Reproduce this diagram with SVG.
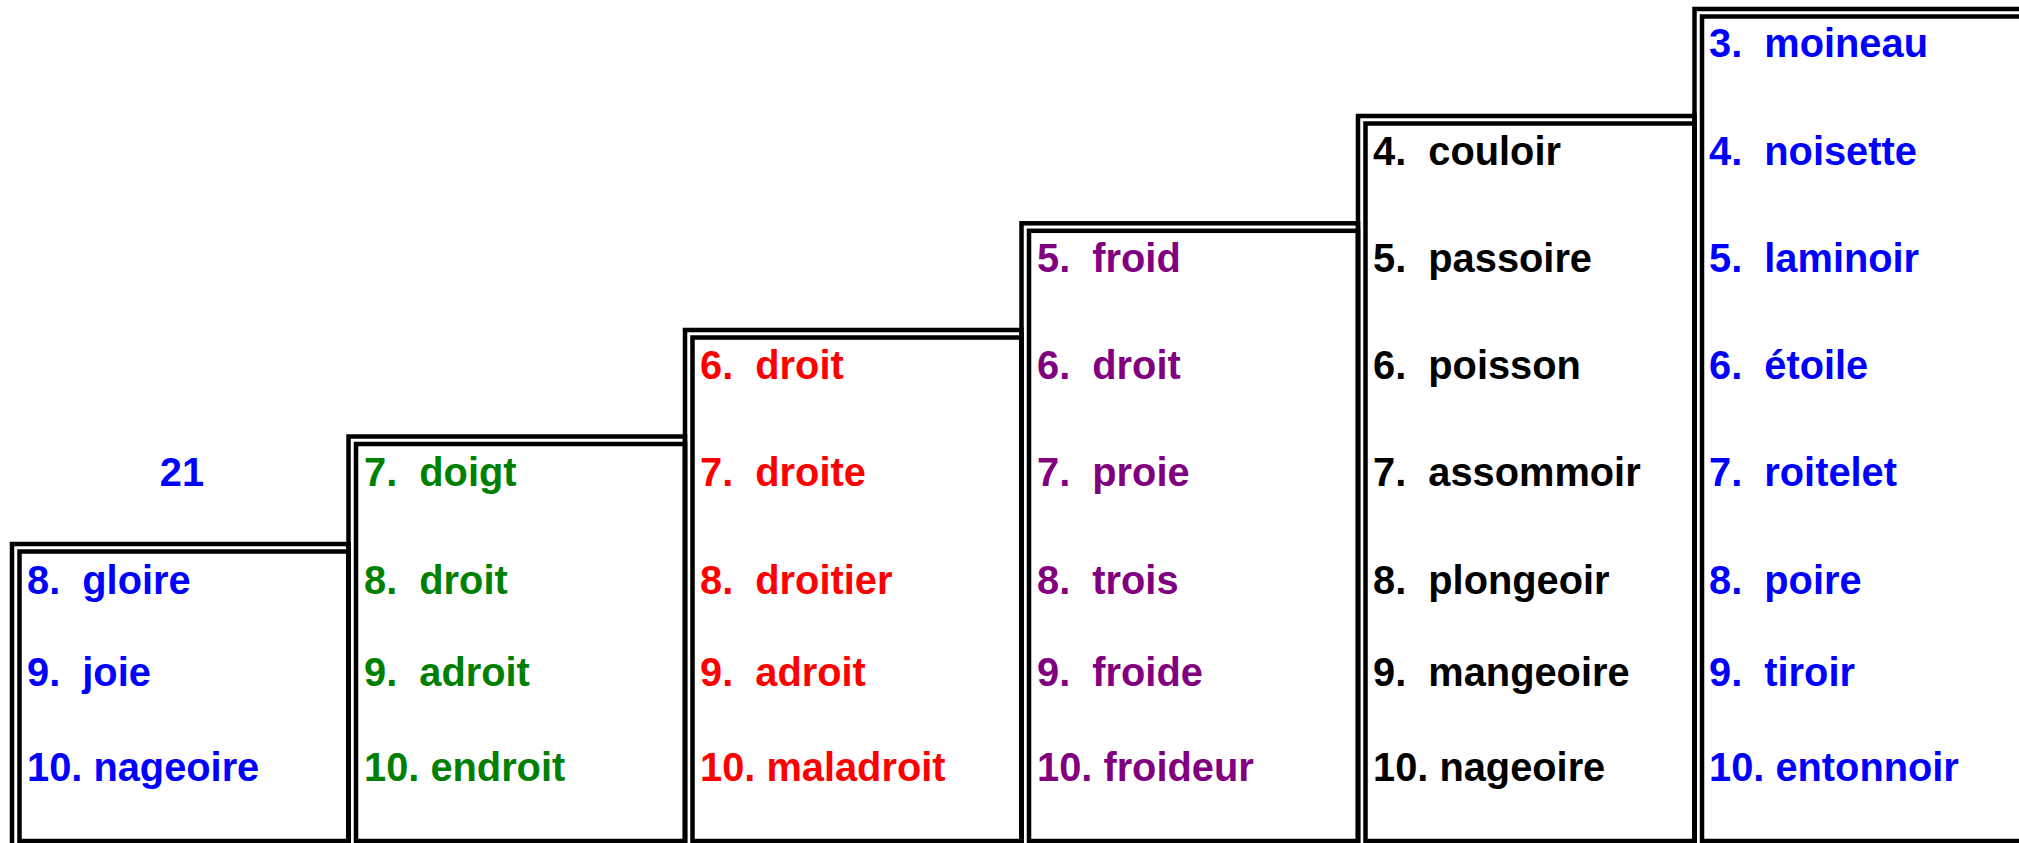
<svg xmlns="http://www.w3.org/2000/svg" width="2019" height="843" viewBox="0 0 2019 843">
<style>
.b{fill:none;stroke:#000;stroke-width:4.5}
text{font-family:"Liberation Sans",Arial,sans-serif;font-weight:bold;font-size:39.8px}
.c1{fill:#0000FF}.c2{fill:#008000}.c3{fill:#FF0000}.c4{fill:#800080}.c5{fill:#000}.c6{fill:#0000FF}
</style>
<rect width="2019" height="843" fill="#fff"/>
<g id="col1">
<rect class="b" x="12" y="544" width="336.5" height="310"/>
<rect class="b" x="19.5" y="551.5" width="329" height="289.5"/>
<text class="c1" x="182" y="486" text-anchor="middle">21</text>
<text class="c1" x="27" y="594">8.&#160; gloire</text>
<text class="c1" x="27" y="686">9.&#160; joie</text>
<text class="c1" x="27" y="781">10. nageoire</text>
</g>
<g id="col2">
<rect class="b" x="348.5" y="436.5" width="336.5" height="420"/>
<rect class="b" x="356" y="444" width="329" height="397"/>
<text class="c2" x="364" y="486">7.&#160; doigt</text>
<text class="c2" x="364" y="594">8.&#160; droit</text>
<text class="c2" x="364" y="686">9.&#160; adroit</text>
<text class="c2" x="364" y="781">10. endroit</text>
</g>
<g id="col3">
<rect class="b" x="685" y="330" width="336.5" height="530"/>
<rect class="b" x="692.5" y="337.5" width="329" height="503.5"/>
<text class="c3" x="700" y="379">6.&#160; droit</text>
<text class="c3" x="700" y="486">7.&#160; droite</text>
<text class="c3" x="700" y="594">8.&#160; droitier</text>
<text class="c3" x="700" y="686">9.&#160; adroit</text>
<text class="c3" x="700" y="781">10. maladroit</text>
</g>
<g id="col4">
<rect class="b" x="1021.5" y="223.3" width="336.5" height="640"/>
<rect class="b" x="1029" y="230.8" width="329" height="610.2"/>
<text class="c4" x="1037" y="272">5.&#160; froid</text>
<text class="c4" x="1037" y="379">6.&#160; droit</text>
<text class="c4" x="1037" y="486">7.&#160; proie</text>
<text class="c4" x="1037" y="594">8.&#160; trois</text>
<text class="c4" x="1037" y="686">9.&#160; froide</text>
<text class="c4" x="1037" y="781">10. froideur</text>
</g>
<g id="col5">
<rect class="b" x="1358" y="116" width="336.5" height="750"/>
<rect class="b" x="1365.5" y="123.5" width="329" height="717.5"/>
<text class="c5" x="1373" y="165">4.&#160; couloir</text>
<text class="c5" x="1373" y="272">5.&#160; passoire</text>
<text class="c5" x="1373" y="379">6.&#160; poisson</text>
<text class="c5" x="1373" y="486">7.&#160; assommoir</text>
<text class="c5" x="1373" y="594">8.&#160; plongeoir</text>
<text class="c5" x="1373" y="686">9.&#160; mangeoire</text>
<text class="c5" x="1373" y="781">10. nageoire</text>
</g>
<g id="col6">
<rect class="b" x="1694.5" y="9" width="400" height="860"/>
<rect class="b" x="1702" y="16.5" width="400" height="824.5"/>
<text class="c6" x="1709" y="57">3.&#160; moineau</text>
<text class="c6" x="1709" y="165">4.&#160; noisette</text>
<text class="c6" x="1709" y="272">5.&#160; laminoir</text>
<text class="c6" x="1709" y="379">6.&#160; étoile</text>
<text class="c6" x="1709" y="486">7.&#160; roitelet</text>
<text class="c6" x="1709" y="594">8.&#160; poire</text>
<text class="c6" x="1709" y="686">9.&#160; tiroir</text>
<text class="c6" x="1709" y="781">10. entonnoir</text>
</g>
<g id="connectors"></g>
</svg>
